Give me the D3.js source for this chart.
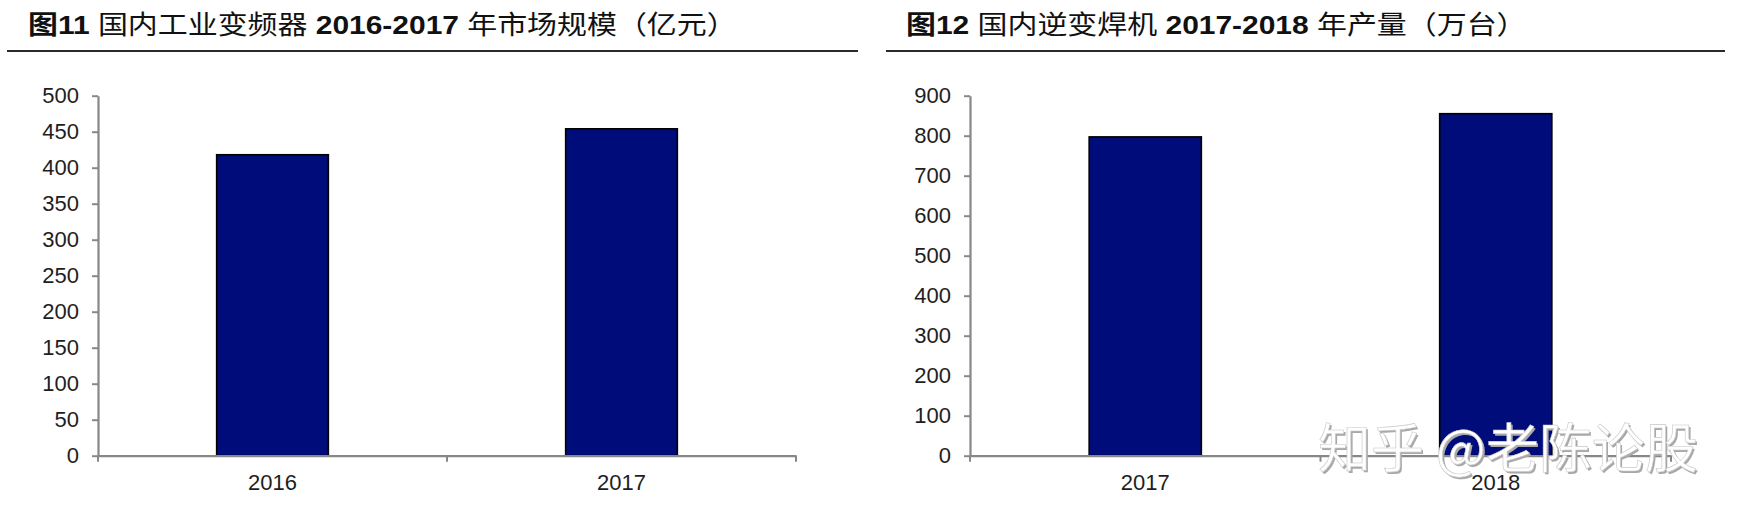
<!DOCTYPE html>
<html>
<head>
<meta charset="utf-8">
<script src="https://cdn.jsdelivr.net/npm/d3@7/dist/d3.min.js"></script>
<style>
  html, body { margin: 0; padding: 0; background: #ffffff; }
  svg { display: block; }
</style>
</head>
<body>
<svg id="chart" width="1744" height="516"></svg>
<script>
// ---------- data ----------
const leftTitleParts = [["图11", true], [" 国内工业变频器 ", false], ["2016-2017", true], [" 年市场规模（亿元）", false]];
const leftCategories = ["2016", "2017"];
const leftValues = [418, 454];
const leftTicks = [0, 50, 100, 150, 200, 250, 300, 350, 400, 450, 500];

const rightTitleParts = [["图12", true], [" 国内逆变焊机 ", false], ["2017-2018", true], [" 年产量（万台）", false]];
const rightCategories = ["2017", "2018"];
const rightValues = [797, 855];
const rightTicks = [0, 100, 200, 300, 400, 500, 600, 700, 800, 900];

const watermark = "知乎 @老陈论股";

// ---------- drawing ----------
const svg = d3.select("#chart");
const NUM_FONT = "'Liberation Sans', Arial, sans-serif";
const CJK_FONT = "'Liberation Sans', 'Noto Sans CJK SC', sans-serif";
const AXIS_COLOR = "#878787";
const BAR_FILL = "#000c7a";

function titleText(parts, x, y, k) {
  const t = svg.append("text")
    .attr("font-family", CJK_FONT)
    .attr("font-size", 26)
    .attr("fill", "#111");
  parts.forEach(([s, bold]) => {
    t.append("tspan").attr("font-weight", bold ? 700 : 400).text(s);
  });
  if (k == null) k = 1;
  t.attr("transform", `translate(${x},${y}) scale(${k},1)`);
  return t;
}

function titleLine(x0, x1) {
  svg.append("line")
    .attr("x1", x0).attr("x2", x1)
    .attr("y1", 51).attr("y2", 51)
    .attr("stroke", "#2a2a2a").attr("stroke-width", 2);
}

function drawChart(cfg) {
  const { categories, values, ticks, x0, x1, yTop, yBottom, maxV } = cfg;
  const g = svg.append("g");
  const x = d3.scaleBand().domain(categories).range([x0, x1]).padding(0);
  const y = d3.scaleLinear().domain([0, maxV]).range([yBottom, yTop]);
  const barFrac = 0.32;
  const bw = x.bandwidth() * barFrac;

  g.selectAll("rect.bar").data(values).enter().append("rect")
    .attr("class", "bar")
    .attr("x", (d, i) => x(categories[i]) + (x.bandwidth() - bw) / 2)
    .attr("y", d => y(d))
    .attr("width", bw)
    .attr("height", d => y(0) - y(d))
    .attr("fill", BAR_FILL)
    .attr("stroke", "#000")
    .attr("stroke-width", 1.6);

  const yAxis = d3.axisLeft(y).tickValues(ticks).tickSize(6).tickSizeOuter(0).tickPadding(13);
  const ya = g.append("g").attr("transform", `translate(${x0},0)`).call(yAxis);
  ya.select(".domain").attr("stroke", AXIS_COLOR).attr("stroke-width", 2.2);
  ya.selectAll(".tick line").attr("stroke", AXIS_COLOR).attr("stroke-width", 2);
  ya.selectAll(".tick text").attr("font-family", NUM_FONT).attr("font-size", 22).attr("fill", "#1e1e1e");

  const xAxis = d3.axisBottom(x).tickSize(0).tickSizeOuter(0).tickPadding(18.5);
  const xa = g.append("g").attr("transform", `translate(0,${yBottom})`).call(xAxis);
  xa.select(".domain").attr("stroke", AXIS_COLOR).attr("stroke-width", 2.2);
  xa.selectAll(".tick text").attr("font-family", NUM_FONT).attr("font-size", 22).attr("fill", "#1e1e1e");

  const bounds = categories.map(c => x(c)).concat([x(categories[categories.length - 1]) + x.bandwidth()]);
  g.selectAll("line.xtick").data(bounds).enter().append("line")
    .attr("class", "xtick")
    .attr("x1", d => d).attr("x2", d => d)
    .attr("y1", yBottom).attr("y2", yBottom + 6)
    .attr("stroke", AXIS_COLOR).attr("stroke-width", 2);
}

// titles: fit left title to its measured width, reuse the same horizontal scale on the right
const lt = titleText(leftTitleParts, 28, 34, 1);
const k = 709 / lt.node().getComputedTextLength();
lt.attr("transform", `translate(28,34) scale(${k},1)`);
titleLine(7, 858);
titleText(rightTitleParts, 906, 34, k);
titleLine(886, 1725);

drawChart({ categories: leftCategories, values: leftValues, ticks: leftTicks,
  x0: 98, x1: 796, yTop: 95.7, yBottom: 455.7, maxV: 500 });
drawChart({ categories: rightCategories, values: rightValues, ticks: rightTicks,
  x0: 970, x1: 1671, yTop: 95.7, yBottom: 455.7, maxV: 900 });

// watermark
svg.append("text")
  .attr("x", 1318).attr("y", 468)
  .attr("font-family", "'Noto Sans CJK SC', sans-serif")
  .attr("font-size", 53)
  .attr("fill", "#a8a8a8")
  .attr("transform", "translate(1.8,1.8)")
  .text(watermark);
svg.append("text")
  .attr("x", 1318).attr("y", 468)
  .attr("font-family", "'Noto Sans CJK SC', sans-serif")
  .attr("font-size", 53)
  .attr("fill", "#ffffff")
  .attr("stroke", "#c8c8c8")
  .attr("stroke-width", 0.6)
  .text(watermark);
</script>
</body>
</html>
